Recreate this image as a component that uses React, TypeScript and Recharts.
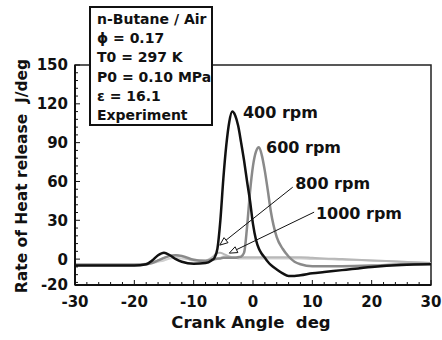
import React from "react";
import {
  LineChart,
  Line,
  XAxis,
  YAxis,
  ReferenceArea,
  ReferenceLine,
  ReferenceDot,
} from "recharts";

// crank angle grid (deg) and heat release rate (J/deg) per engine speed
const angles = [-30, -25, -20, -18, -17, -16, -15, -14, -13, -12, -10, -8, -7, -6.5, -6, -5.5, -5, -4.5, -4, -3.5, -3, -2.5, -2, -1.5, -1, -0.5, 0, 0.5, 1, 1.5, 2, 2.5, 3, 4, 5, 6, 7, 8, 10, 12, 15, 20, 25, 30];
const rpm400 = [-5, -5, -5, -4, -1, 3, 5, 3, 0, -2, -3.5, -3, -1, 1, 8, 30, 62, 88, 106, 114, 111, 103, 90, 76, 60, 45, 27, 15, 8, 4, 1, -2, -4.5, -8, -11, -13, -13, -12.5, -11, -10, -8.5, -6, -4.5, -4];
const rpm600 = [-4.5, -4.5, -4.5, -4, -3, -1, 1, 2.5, 3, 2.5, -0.5, -1.5, -0.5, 0, 0.5, 0.5, 1, 1, 1, 1, 1, 1.5, 2, 5, 25, 52, 72, 83, 86.5, 80, 68, 53, 37, 17, 8, 2, -2, -4, -5.5, -5.5, -5.5, -5, -4, -3.5];
const rpm800 = [-4, -4, -4, -3.5, -2.5, -1, 1, 2.5, 3, 2, -1, -1, 1, 3, 5, 5, 4, 3, 2, 1.5, 1.5, 1.5, 1.5, 1.5, 1.5, 1.5, 1.5, 1.5, 1.5, 1.5, 1.5, 1.5, 1.5, 1.5, 1.5, 1.5, 1.5, 1.5, 1, 0.5, 0, -1, -2, -3];
const rpm1000 = [-4, -4, -4, -3.5, -3, -2, -1, 0.5, 1, 0.5, -0.5, -1, -1, -0.5, 0, 1, 2, 2, 1.5, 1, 1, 0.5, 0.5, 0.5, 0.5, 0.5, 0.5, 0.5, 0.5, 0.5, 0.5, 0.5, 0.5, 0.5, 0.5, 0.5, 0.5, 0.5, 0, 0, -0.5, -1, -2, -3];

const xTicks = [-30, -28, -26, -24, -22, -20, -18, -16, -14, -12, -10, -8, -6, -4, -2, 0, 2, 4, 6, 8, 10, 12, 14, 16, 18, 20, 22, 24, 26, 28, 30];
const xLabels = [-30, -20, -10, 0, 10, 20, 30];
const yTicks = [-20, -18, -12, -6, 0, 6, 12, 18, 24, 30, 36, 42, 48, 54, 60, 66, 72, 78, 84, 90, 96, 102, 108, 114, 120, 126, 132, 138, 144, 150];
const yLabels = [-20, 0, 30, 60, 90, 120, 150];

// speed labels (left edge / baseline, data coords)
const speedLabels = [
  { text: "400 rpm", x: -1.7, y: 109 },
  { text: "600 rpm", x: 2.2, y: 82 },
  { text: "800 rpm", x: 7.1, y: 54 },
  { text: "1000 rpm", x: 10.6, y: 31 },
];
// leader arrows: from label to curve
const arrows = [
  { from: [6.7, 55.6], to: [-5.6, 10.8] },
  { from: [10.3, 36.3], to: [-4.0, 4.6] },
];

const conditions = ["n-Butane / Air", "\u03d5 = 0.17", "T0 = 297 K", "P0 = 0.10 MPa", "\u03b5 = 16.1", "Experiment"];

const data = angles.map((a, i) => ({
  angle: a,
  r400: rpm400[i],
  r600: rpm600[i],
  r800: rpm800[i],
  r1000: rpm1000[i],
}));

const FONT = "'DejaVu Sans', sans-serif";
const INK = "#111";

function XTick(props: any) {
  const { x, y, payload } = props;
  const major = xLabels.includes(payload.value);
  return (
    <g>
      <line x1={x} x2={x} y1={y} y2={y - (major ? 5 : 3)} stroke={INK} strokeWidth={1} />
      {major && (
        <text x={x} y={y + 22} textAnchor="middle" fontFamily={FONT} fontWeight="bold" fontSize={15} fill={INK}>
          {payload.value}
        </text>
      )}
    </g>
  );
}

function YTick(props: any) {
  const { x, y, payload } = props;
  const major = yLabels.includes(payload.value);
  return (
    <g>
      <line x1={x} x2={x + (major ? 5 : 3)} y1={y} y2={y} stroke={INK} strokeWidth={1} />
      {major && (
        <text x={x - 7} y={y} dy="0.36em" textAnchor="end" fontFamily={FONT} fontWeight="bold" fontSize={15} fill={INK}>
          {payload.value}
        </text>
      )}
    </g>
  );
}

function Arrow(props: any) {
  const { x1, y1, x2, y2 } = props;
  const dx = x2 - x1;
  const dy = y2 - y1;
  const len = Math.sqrt(dx * dx + dy * dy) || 1;
  const ux = dx / len;
  const uy = dy / len;
  const bx = x2 - ux * 8;
  const by = y2 - uy * 8;
  const px = -uy * 3.2;
  const py = ux * 3.2;
  return (
    <g>
      <line x1={x1} y1={y1} x2={bx} y2={by} stroke={INK} strokeWidth={1} />
      <polygon points={`${x2},${y2} ${bx + px},${by + py} ${bx - px},${by - py}`} fill="#fff" stroke={INK} strokeWidth={1} />
    </g>
  );
}

export default function App() {
  return (
    <div style={{ position: "absolute", left: 0, top: 0, width: 442, height: 340, background: "#fff" }}>
      <LineChart width={442} height={340} data={data} margin={{ top: 65, right: 11, bottom: 0, left: 30 }}>
        <XAxis
          dataKey="angle"
          type="number"
          domain={[-30, 30]}
          ticks={xTicks}
          interval={0}
          height={55}
          tickSize={0}
          tickMargin={0}
          tick={<XTick />}
          axisLine={{ stroke: INK, strokeWidth: 2 }}
          allowDataOverflow
        />
        <YAxis
          type="number"
          domain={[-20, 150]}
          ticks={yTicks}
          interval={0}
          width={45}
          tickSize={0}
          tickMargin={0}
          tick={<YTick />}
          axisLine={{ stroke: INK, strokeWidth: 2 }}
          allowDataOverflow
        />
        <ReferenceArea x1={-30} x2={30} y1={-20} y2={150} fill="none" stroke="#222" strokeWidth={1.5} />
        <Line type="monotone" dataKey="r1000" stroke="#d0d0d0" strokeWidth={2} dot={false} activeDot={false} isAnimationActive={false} />
        <Line type="monotone" dataKey="r800" stroke="#b8b8b8" strokeWidth={2} dot={false} activeDot={false} isAnimationActive={false} />
        <Line type="monotone" dataKey="r600" stroke="#8a8a8a" strokeWidth={2.5} dot={false} activeDot={false} isAnimationActive={false} />
        <Line type="monotone" dataKey="r400" stroke={INK} strokeWidth={2.5} dot={false} activeDot={false} isAnimationActive={false} />
        {arrows.map((a, i) => (
          <ReferenceLine
            key={i}
            segment={[
              { x: a.from[0], y: a.from[1] },
              { x: a.to[0], y: a.to[1] },
            ]}
            ifOverflow="visible"
            shape={<Arrow />}
          />
        ))}
        {speedLabels.map((l) => (
          <ReferenceDot
            key={l.text}
            x={l.x}
            y={l.y}
            r={0}
            ifOverflow="visible"
            shape={(p: any) => (
              <text x={p.cx} y={p.cy} fontFamily={FONT} fontWeight="bold" fontSize={16} fill={INK}>
                {l.text}
              </text>
            )}
          />
        ))}
      </LineChart>
      <svg width={442} height={340} style={{ position: "absolute", left: 0, top: 0, pointerEvents: "none" }}>
        <rect x={90} y={7} width={122} height={118} fill="#fff" stroke={INK} strokeWidth={2} />
        {conditions.map((c, i) => (
          <text key={c} x={97} y={24 + i * 19.2} fontFamily={FONT} fontWeight="bold" fontSize={14} fill={INK}>
            {c}
          </text>
        ))}
        <text
          x={27}
          y={176}
          transform="rotate(-90, 27, 176)"
          textAnchor="middle"
          fontFamily={FONT}
          fontWeight="bold"
          fontSize={15.5}
          fill={INK}
          style={{ whiteSpace: "pre" }}
        >
          {"Rate of Heat release  J/deg"}
        </text>
        <text x={251} y={328} textAnchor="middle" fontFamily={FONT} fontWeight="bold" fontSize={16.5} fill={INK} style={{ whiteSpace: "pre" }}>
          {"Crank Angle  deg"}
        </text>
      </svg>
    </div>
  );
}
